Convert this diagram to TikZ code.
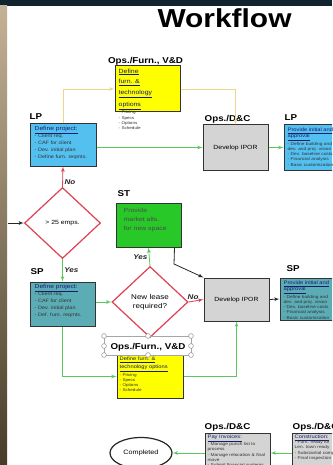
\documentclass[tikz,border=0pt]{standalone}
\usepackage{fontspec}
\setmainfont{Liberation Sans}[FakeStretch=1.15]
\usetikzlibrary{arrows,shapes.geometric}
\definecolor{slidebar}{RGB}{16,36,48}
\definecolor{photolight}{RGB}{196,178,150}
\definecolor{photodark}{RGB}{70,60,40}
\definecolor{lpblue}{RGB}{84,192,240}
\definecolor{spteal}{RGB}{92,172,182}
\definecolor{opsgray}{RGB}{212,212,212}
\definecolor{furnyellow}{RGB}{255,255,0}
\definecolor{stgreen}{RGB}{40,200,40}
\definecolor{decred}{RGB}{222,64,84}
\definecolor{furnline}{RGB}{236,214,140}
\definecolor{flowgreen}{RGB}{90,200,90}
\definecolor{headnavy}{RGB}{20,30,110}
\tikzstyle{task}=[draw=black!80, line width=1pt, inner sep=0pt]
\tikzstyle{lpbox}=[task, fill=lpblue]
\tikzstyle{spbox}=[task, fill=spteal]
\tikzstyle{opsbox}=[task, fill=opsgray, font=\fontsize{6}{7}\selectfont]
\tikzstyle{furnbox}=[task, fill=furnyellow]
\tikzstyle{stbox}=[task, fill=stgreen]
\tikzstyle{decision}=[diamond, draw=decred, line width=1.2pt, fill=white,
  inner sep=0pt, align=center]
\tikzstyle{role}=[font=\bfseries\fontsize{8.5}{9}\selectfont, inner sep=0pt]
\tikzstyle{boxtext}=[align=left, inner sep=0pt, anchor=north west,
  text=black!80]
\tikzstyle{listtext}=[font=\fontsize{4.8}{7}\selectfont]
\tikzstyle{finetext}=[font=\fontsize{4.2}{5.3}\selectfont]
\tikzstyle{optext}=[font=\fontsize{4}{5.2}\selectfont]
\tikzstyle{answer}=[font=\bfseries\itshape\fontsize{7}{8}\selectfont,
  text=black!85, inner sep=1.5pt]
\tikzstyle{handle}=[draw=black!45, fill=white, line width=0.5pt]
\tikzstyle{yline} = [draw, thick, color=furnline, -latex']
\tikzstyle{gline} = [draw, thick, color=flowgreen, -latex']
\tikzstyle{rline} = [draw, thick, color=decred, -latex']
\tikzstyle{bline} = [draw, thick, color=black!85, -latex']
\newcommand{\boxhead}[2][5.8]{{\fontsize{#1}{#1}\selectfont
  \textcolor{headnavy}{\underline{#2}}}}
% box with its text set from the top left corner
\newcommand{\taskbox}[8][3,3]{%
  \node (#2) [#3, minimum width=#5pt, minimum height=#6pt] at (#4) {};
  \node (#2-txt) [boxtext, #7] at ([shift={(#1)}]#2.north west) {#8};}

\begin{document}
\begin{tikzpicture}[x=1pt,y=-1pt]
  \useasboundingbox (0,0) rectangle (332,465);
  \clip (0,0) rectangle (332,465);
  % slide frame
  \fill[white] (0,0) rectangle (332,465);
  \fill[slidebar] (0,0) rectangle (332,6);
  \shade[top color=photolight, bottom color=photodark] (0,6) rectangle (7,465);
  \node (title) [font=\bfseries\fontsize{26}{26}\selectfont, anchor=base]
    at (224.5,28) {Workflow};

  % Draw diagram elements
  % large project row
  \taskbox[4,3]{yelA}{furnbox}{147.5,89}{65}{46}{optext}{%
    \boxhead[6]{Define}\\[3.3pt]\boxhead[6]{furn. \&}\\[3.3pt]
    \boxhead[6]{technology}\\[3.3pt]\boxhead[6]{options}\\[0.5pt]
    - Pricing\\- Specs\\- Options\\- Schedule}
  \node (yelA-role) [role, anchor=base] at ([shift={(-2,-1.5)}]yelA.north)
    {Ops./Furn., V\&D};
  \taskbox[5,3]{lpA}{lpbox}{63,145}{66}{42}{listtext}{%
    \boxhead{Define project:}\\- Client req.\\- CAF for client\\
    - Dev. initial plan\\- Define furn. reqmts.}
  \node (lpA-role) [role, anchor=base west] at ([shift={(0,-4)}]lpA.north west) {LP};
  \node (grayA) [opsbox, minimum width=65pt, minimum height=45pt]
    at (235.5,147.5) {Develop IPOR};
  \node (grayA-role) [role, anchor=base west] at ([shift={(2,-3)}]grayA.north west)
    {Ops./D\&C};
  \taskbox[4,3]{lpR}{lpbox}{319,147.5}{70}{45}{finetext}{%
    \boxhead[5]{Provide initial and}\\\boxhead[5]{approval}\\
    - Define building and\\dev. and proj. vision\\- Dev. baseline costs\\
    - Financial analysis\\- Basic customization}
  \node (lpR-role) [role, anchor=base west] at ([shift={(1,-4)}]lpR.north west) {LP};

  % decision row
  \coordinate (entry) at (8,223);
  \node (diamA) [decision, minimum width=76pt, minimum height=71pt,
    font=\fontsize{6}{7}\selectfont] at (62.5,223) {> 25 emps.};
  \taskbox[8,5]{stG}{stbox}{148.5,225}{65}{44}{font=\fontsize{6}{9}\selectfont,
    text=black!70}{Provide\\market alts.\\for new space}
  \node (stG-role) [role, anchor=base west] at ([shift={(2,-6)}]stG.north west) {ST};
  \node (diamB) [decision, minimum width=76pt, minimum height=71pt,
    font=\fontsize{7}{9}\selectfont] at (150,302) {New lease\\required?};
  \coordinate (stbend) at (174,264);

  % small project row
  \taskbox[5,3]{spA}{spbox}{62.5,304}{65}{44}{listtext}{%
    \boxhead{Define project:}\\- Client req.\\- CAF for client\\
    - Dev. initial plan\\- Def. furn. reqmts.}
  \node (spA-role) [role, anchor=base west] at ([shift={(1,-7)}]spA.north west) {SP};
  \node (grayB) [opsbox, minimum width=65pt, minimum height=43pt]
    at (236.5,299.5) {Develop IPOR};
  \taskbox[4,3]{spR}{spbox}{315,299}{70}{42}{finetext}{%
    \boxhead[5]{Provide initial and}\\\boxhead[5]{approval}\\
    - Define building and\\dev. and proj. vision\\- Dev. baseline costs\\
    - Financial analysis\\- Basic customization}
  \node (spR-role) [role, anchor=base west] at ([shift={(7,-6)}]spR.north west) {SP};
  \taskbox[3,2]{yelB}{furnbox}{150,376.5}{66}{43}{optext}{%
    \boxhead[5]{Define furn. \&}\\[1.5pt]\boxhead[5]{technology options}\\[0.8pt]
    - Pricing\\- Specs\\- Options\\- Schedule}
  % selection handles round the label
  \draw[black!35, line width=0.4pt] (104,336) rectangle (191,355);
  \foreach \hx/\hy in {104/336,148/336,191/336,104/346,191/346,104/355,148/355,191/355}
    \path[handle] (\hx,\hy) circle (2.4pt);
  \node (yelB-role) [role, anchor=base] at ([shift={(-2,-5)}]yelB.north)
    {Ops./Furn., V\&D};

  % closing row
  \node (done) [ellipse, draw=black!85, line width=1.2pt, minimum width=62pt,
    minimum height=31pt, font=\fontsize{6.3}{7}\selectfont] at (141,453) {Completed};
  \taskbox[3,2]{grayC}{opsbox}{237.5,453}{65}{40}{finetext}{%
    \boxhead[5]{Pay Invoices:}\\- Manage punch list to\\process\\
    - Manage relocation \& final\\move\\- Submit financial systems}
  \node (grayC-role) [role, anchor=base west] at ([shift={(0,-3)}]grayC.north west)
    {Ops./D\&C};
  \taskbox[3,2]{conR}{opsbox}{327,453}{70}{40}{finetext}{%
    \boxhead[5]{Construction:}\\- Furn. ready for\\Len. town ready\\
    - Substantial completion\\- Final inspection}
  \node (conR-role) [role, anchor=base west] at ([shift={(1,-3)}]conR.north west)
    {Ops./D\&C};

  % Draw arrows between elements
  \path [yline] (lpA.north) |- (yelA.west);
  \path [yline] (yelA.east) -| (grayA.north);
  \path [gline] (lpA.east |- grayA.west) -- (grayA.west);
  \path [gline] (grayA.east) -- (lpR.west);
  \path [rline] (diamA.north) -- node (noA) [answer, right, pos=0.25] {No} (lpA.south);
  \path [bline] (entry) -- (diamA.west);
  \path [gline] (diamA.south) -- node (yesA) [answer, right] {Yes} (spA.north);
  \path [gline] (spA.east |- diamB.west) -- (diamB.west);
  \path [gline] (diamB.north) -- node (yesB) [answer, left, pos=0.45] {Yes} (stG.south);
  \path [rline] (diamB.east) -- node (noB) [answer, above, pos=0.3] {No} (grayB.west);
  \path [bline] ([xshift=-7pt]stG.south east) -- (stbend) -- (grayB.north west);
  \path [bline] (grayB.east) -- (spR.west);
  \path [gline] (spA.south) |- (yelB.west);
  \path [gline] (yelB.east) -| (grayB.south);
  \path [gline] (grayC.west) -- (done.east);
  \path [gline] (conR.west) -- (grayC.east);
\end{tikzpicture}
\end{document}
